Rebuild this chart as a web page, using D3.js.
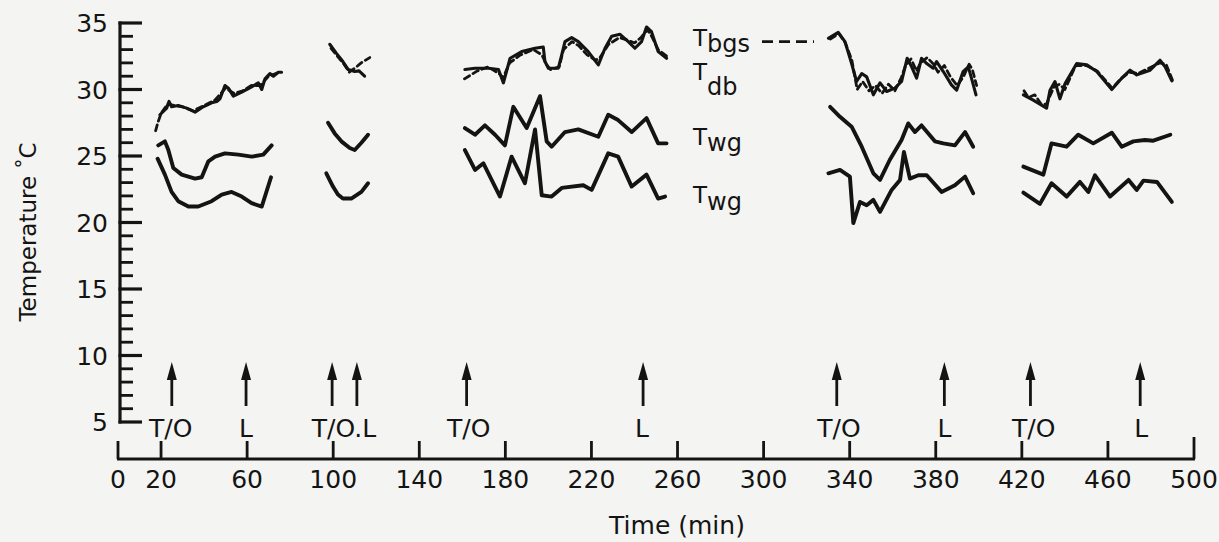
<!DOCTYPE html>
<html>
<head>
<meta charset="utf-8">
<script src="https://cdn.jsdelivr.net/npm/d3@7"></script>
<style>
  html, body { margin: 0; padding: 0; background: #f4f4f2; }
  svg { display: block; }
  text { font-family: "DejaVu Sans", sans-serif; fill: #141414; }
</style>
</head>
<body>
<svg id="chart" width="1219" height="542"></svg>
<script>
// ---- data: temperatures (°C) against time (min), one array per flight ----
const tbgs = [
  [[17.5,26.9],[18.5,27.5],[20,28.2],[23,28.9],[26,28.8],[30,28.7],[35,28.4],[40,28.8],[45,29.2],[50,30.1],[54,29.7],[58,29.9],[62,30.3],[66,30.3],[70,31.0],[75,31.3]],
  [[99,33.1],[102,32.5],[105,31.9],[107.5,31.3],[110,31.6],[113,32.0],[117,32.4]],
  [[161,30.8],[164,31.1],[167,31.4],[172,31.7],[177,31.2],[179,30.9],[182,32.0],[187,32.6],[193,33.0],[197,32.6],[199,31.9],[201,31.5],[205,31.7],[207,33.0],[211,33.6],[214,33.3],[218,32.6],[222,32.2],[224,32.4],[228,33.4],[233,33.9],[237,33.7],[240,33.5],[243,33.9],[246,34.5],[248,34.0],[251,33.0],[255,32.5]],
  [[331,33.8],[335,34.2],[338,33.5],[341,32.2],[343.5,30.0],[346,30.6],[349,29.9],[352,30.3],[355,29.7],[358,30.4],[361,29.9],[364,30.9],[366,31.8],[368.5,32.3],[371,31.4],[373,32.0],[376,32.4],[379,31.9],[381,31.3],[384,31.8],[387,30.9],[390,30.3],[393,31.0],[395.5,31.9],[397,31.5],[399,30.3]],
  [[421,29.9],[423,29.4],[426,29.6],[429,28.9],[431.5,28.9],[433,29.5],[435,30.2],[437.5,30.4],[440,30.0],[445,31.8],[450,31.8],[455,31.4],[462,30.1],[466,30.8],[470,31.3],[474,31.2],[479,31.6],[484,32.0],[487,31.9],[490,30.7]]
];

const tdb = [
  [[19.5,28.1],[22.6,28.6],[23.7,29.1],[24.9,28.7],[28,28.8],[31.9,28.6],[35.8,28.3],[39.6,28.7],[43.5,29.0],[45.9,29.1],[47.4,29.3],[49.7,30.3],[51.3,30.1],[53.6,29.5],[57.5,29.8],[62.1,30.2],[65.2,30.5],[66.8,30.0],[68.3,30.8],[70.6,31.2],[72.2,31.0],[74.5,31.3],[76,31.3]],
  [[98.4,33.4],[101.6,32.7],[104.5,32.1],[107,31.5],[110,31.35],[112,31.4],[114.6,31.0]],
  [[161.2,31.5],[165.9,31.6],[172.1,31.6],[176.8,31.5],[179.1,30.5],[182.2,32.35],[187.6,32.85],[193.8,33.1],[197.6,33.2],[198.4,32.1],[200,31.6],[204.6,31.6],[206.2,32.6],[207.7,33.6],[210.8,33.9],[213.9,33.6],[218.5,32.85],[223.2,31.85],[226.3,33.1],[229.4,34.0],[233.3,34.15],[237.1,33.6],[240.2,33.1],[243.3,33.6],[245.6,34.7],[247.9,34.35],[251,32.85],[254.9,32.35]],
  [[330.1,33.85],[334.7,34.3],[337.8,33.6],[340.9,31.95],[343.2,30.6],[345.6,31.2],[347.9,30.95],[351,29.6],[354.1,30.5],[357.2,29.85],[361,30.1],[364.1,30.6],[366.7,32.35],[368.8,31.7],[371.1,30.85],[373.4,32.35],[375.8,31.95],[378.8,31.6],[380.4,32.1],[383.5,31.35],[387.3,30.35],[389.7,29.95],[392.7,31.35],[395.1,31.7],[396.6,30.85],[398.7,29.6]],
  [[420.7,29.6],[425.3,29.2],[431.5,28.6],[433.1,29.95],[435.4,30.6],[437.7,29.3],[440.1,30.45],[445.5,31.95],[450.2,31.85],[454.8,31.35],[461.8,30.0],[466.4,30.85],[470.3,31.45],[473.4,31.1],[479.6,31.45],[484.2,32.2],[486.6,31.7],[489.7,30.65]]
];

const twgUpper = [
  [[18.7,25.8],[21.8,26.1],[23.4,25.45],[25.7,24.1],[29.6,23.6],[35.8,23.3],[38.9,23.4],[42,24.6],[45.1,24.95],[49.7,25.2],[55.9,25.1],[62.1,24.95],[67.5,25.1],[71.4,25.8]],
  [[97.6,27.5],[100.7,26.7],[103.8,26.1],[107.7,25.6],[110,25.45],[113.1,26.0],[116.2,26.6]],
  [[161.2,27.1],[165.9,26.6],[170.5,27.3],[175.2,26.6],[179.8,25.8],[183.7,28.7],[189.9,27.1],[196.1,29.5],[199.2,26.1],[201.5,25.7],[207.7,26.8],[213.9,27.0],[223.2,26.45],[227.8,28.1],[232.4,27.7],[238.7,26.8],[245.6,27.85],[251,25.95],[254.9,25.95]],
  [[330.9,28.7],[335.5,27.95],[340.9,27.2],[345.6,25.7],[351,23.7],[354.1,23.2],[358.6,24.7],[364.1,26.2],[367.2,27.45],[370.3,26.8],[373.4,27.3],[379.6,26.1],[383.5,25.95],[388.9,25.8],[393.6,26.8],[397.4,25.7]],
  [[420.7,24.2],[430,23.6],[433.8,25.95],[440.8,25.7],[446.2,26.6],[453.2,25.95],[461.8,26.75],[466.4,25.7],[471.8,26.1],[477.2,26.2],[481.1,26.15],[489,26.6]]
];

const twgLower = [
  [[18.4,24.8],[21.8,23.6],[24.9,22.3],[28,21.6],[32.7,21.2],[37.3,21.2],[43.5,21.6],[48.2,22.1],[52.8,22.3],[57.5,21.95],[62.1,21.45],[66.8,21.2],[71.1,23.4]],
  [[96.8,23.7],[99.9,22.7],[102.2,22.1],[104.5,21.8],[108.4,21.8],[113.1,22.3],[116.2,22.95]],
  [[161.2,25.45],[165.9,23.95],[169.8,24.45],[177.5,21.95],[182.9,24.95],[189.1,22.95],[193.8,27.0],[196.9,22.05],[201.5,21.95],[206.2,22.6],[216.2,22.8],[220.1,22.45],[227.8,25.2],[232.4,24.95],[238.7,22.7],[245.6,23.6],[251,21.8],[254.2,21.95]],
  [[330.1,23.7],[335.5,23.95],[340.1,23.45],[341.7,19.95],[344.8,21.55],[347.9,21.3],[351,21.7],[354.1,20.8],[359.5,22.45],[363.4,23.2],[365.2,25.3],[368,23.3],[371.9,23.55],[375.8,23.55],[382.7,22.3],[388.9,22.8],[393.6,23.45],[397.4,22.2]],
  [[420.7,22.25],[428.4,21.4],[433.8,22.95],[440.8,21.95],[447,23.05],[450.9,22.3],[454,23.55],[461,21.95],[469.6,23.2],[473.4,22.45],[476.5,23.15],[482.8,23.05],[489.7,21.55]]
];

// take-off (T/O) and landing (L) markers
const eventTimes = [25, 59.5, 99.5, 111, 162, 244, 334, 384, 424, 475];
const eventLabelTimes = [24.5, 59.5, 105, 163, 243.5, 335, 384, 425.5, 475.5];
const eventLabels = ["T/O", "L", "T/O.L", "T/O", "L", "T/O", "L", "T/O", "L"];

// axis ticks
const xTickValues = [0, 20, 60, 100, 140, 180, 220, 260, 300, 340, 380, 420, 460, 500];
const yMajorTicks = [5, 10, 15, 20, 25, 30, 35];
const yMinorTicks = d3.range(5, 36, 1);

// curve labels at the right of the third flight: [main letter, subscript, temperature]
const curveLabels = [
  ["T", "bgs", 33.9],
  ["T", "db", 31.3],
  ["T", "wg", 26.4],
  ["T", "wg", 22.1]
];
const subDrops = [6, 15, 6, 7];

// ---- drawing ----
const svg = d3.select("#chart");
const ink = "#141414";

const x = d3.scaleLinear().domain([0, 500]).range([118, 1194]);
const y = d3.scaleLinear().domain([5, 35]).range([422, 23]);

// y axis: bracket line with inward ticks
const yAxisX = 120;
const gy = svg.append("g");
gy.append("line")
  .attr("x1", yAxisX).attr("x2", yAxisX)
  .attr("y1", y(35) - 1.5).attr("y2", y(5) + 1.5)
  .attr("stroke", ink).attr("stroke-width", 3.2);
gy.selectAll("line.minor").data(yMinorTicks.filter(v => v % 5 !== 0)).join("line")
  .attr("class", "minor")
  .attr("x1", yAxisX).attr("x2", yAxisX + 13)
  .attr("y1", d => y(d)).attr("y2", d => y(d))
  .attr("stroke", ink).attr("stroke-width", 2.8);
gy.selectAll("line.major").data(yMajorTicks).join("line")
  .attr("class", "major")
  .attr("x1", yAxisX - 1.5).attr("x2", yAxisX + 22)
  .attr("y1", d => y(d)).attr("y2", d => y(d))
  .attr("stroke", ink).attr("stroke-width", 3.2);
gy.selectAll("text").data(yMajorTicks).join("text")
  .attr("x", 108).attr("y", d => y(d) + 9)
  .attr("text-anchor", "end")
  .attr("font-size", 25)
  .text(d => d);

// y axis title
const yTitle = svg.append("text")
  .attr("transform", "translate(36,232) rotate(-90)")
  .attr("text-anchor", "middle")
  .attr("font-size", 23);
yTitle.append("tspan").text("Temperature ");
yTitle.append("tspan").attr("dy", -6).attr("font-size", 20).text("°");
yTitle.append("tspan").attr("dy", 6).text("C");

// x axis
const axisY = 459;
const gx = svg.append("g");
gx.append("line")
  .attr("x1", x(0) - 1).attr("x2", x(500) + 1)
  .attr("y1", axisY).attr("y2", axisY)
  .attr("stroke", ink).attr("stroke-width", 3.2);
gx.selectAll("line.tick").data(xTickValues).join("line")
  .attr("class", "tick")
  .attr("x1", d => x(d)).attr("x2", d => x(d))
  .attr("y1", axisY).attr("y2", d => d === 500 ? axisY - 22 : axisY - 18)
  .attr("stroke", ink).attr("stroke-width", 2.8);
gx.selectAll("text").data(xTickValues).join("text")
  .attr("x", d => x(d)).attr("y", 488)
  .attr("text-anchor", "middle")
  .attr("font-size", 25)
  .text(d => d);

svg.append("text")
  .attr("x", 677).attr("y", 534)
  .attr("text-anchor", "middle")
  .attr("font-size", 25)
  .text("Time (min)");

// event arrows
const ge = svg.append("g");
ge.selectAll("line").data(eventTimes).join("line")
  .attr("x1", d => x(d)).attr("x2", d => x(d))
  .attr("y1", 406).attr("y2", 376)
  .attr("stroke", ink).attr("stroke-width", 2.8);
ge.selectAll("path").data(eventTimes).join("path")
  .attr("d", d => `M${x(d)},362 L${x(d) + 5},380 L${x(d) - 5},380 Z`)
  .attr("fill", ink);
ge.selectAll("text").data(eventLabels).join("text")
  .attr("x", (d, i) => x(eventLabelTimes[i]))
  .attr("y", 437)
  .attr("text-anchor", "middle")
  .attr("font-size", 25)
  .text(d => d);

// temperature curves
const line = d3.line().x(d => x(d[0])).y(d => y(d[1])).curve(d3.curveLinear);

function drawSeries(flights, width, dash) {
  svg.append("g").selectAll("path").data(flights).join("path")
    .attr("d", line)
    .attr("fill", "none")
    .attr("stroke", ink)
    .attr("stroke-width", width)
    .attr("stroke-linejoin", "round")
    .attr("stroke-linecap", "round")
    .attr("stroke-dasharray", dash);
}
drawSeries(twgLower, 3.9, null);
drawSeries(twgUpper, 3.9, null);
drawSeries(tdb, 3.1, null);
drawSeries(tbgs, 2.8, "6,4");

// curve names
const gl = svg.append("g");
curveLabels.forEach((c, i) => {
  const t = gl.append("text")
    .attr("x", 693)
    .attr("y", y(c[2]) + 8)
    .attr("font-size", 23);
  t.append("tspan").text(c[0]);
  t.append("tspan").attr("dy", subDrops[i]).attr("font-size", 24).text(c[1]);
});
// dashed key for Tbgs
gl.append("line")
  .attr("x1", 762).attr("x2", 814)
  .attr("y1", y(33.6)).attr("y2", y(33.6))
  .attr("stroke", ink).attr("stroke-width", 2.8)
  .attr("stroke-dasharray", "11,6");
</script>
</body>
</html>
